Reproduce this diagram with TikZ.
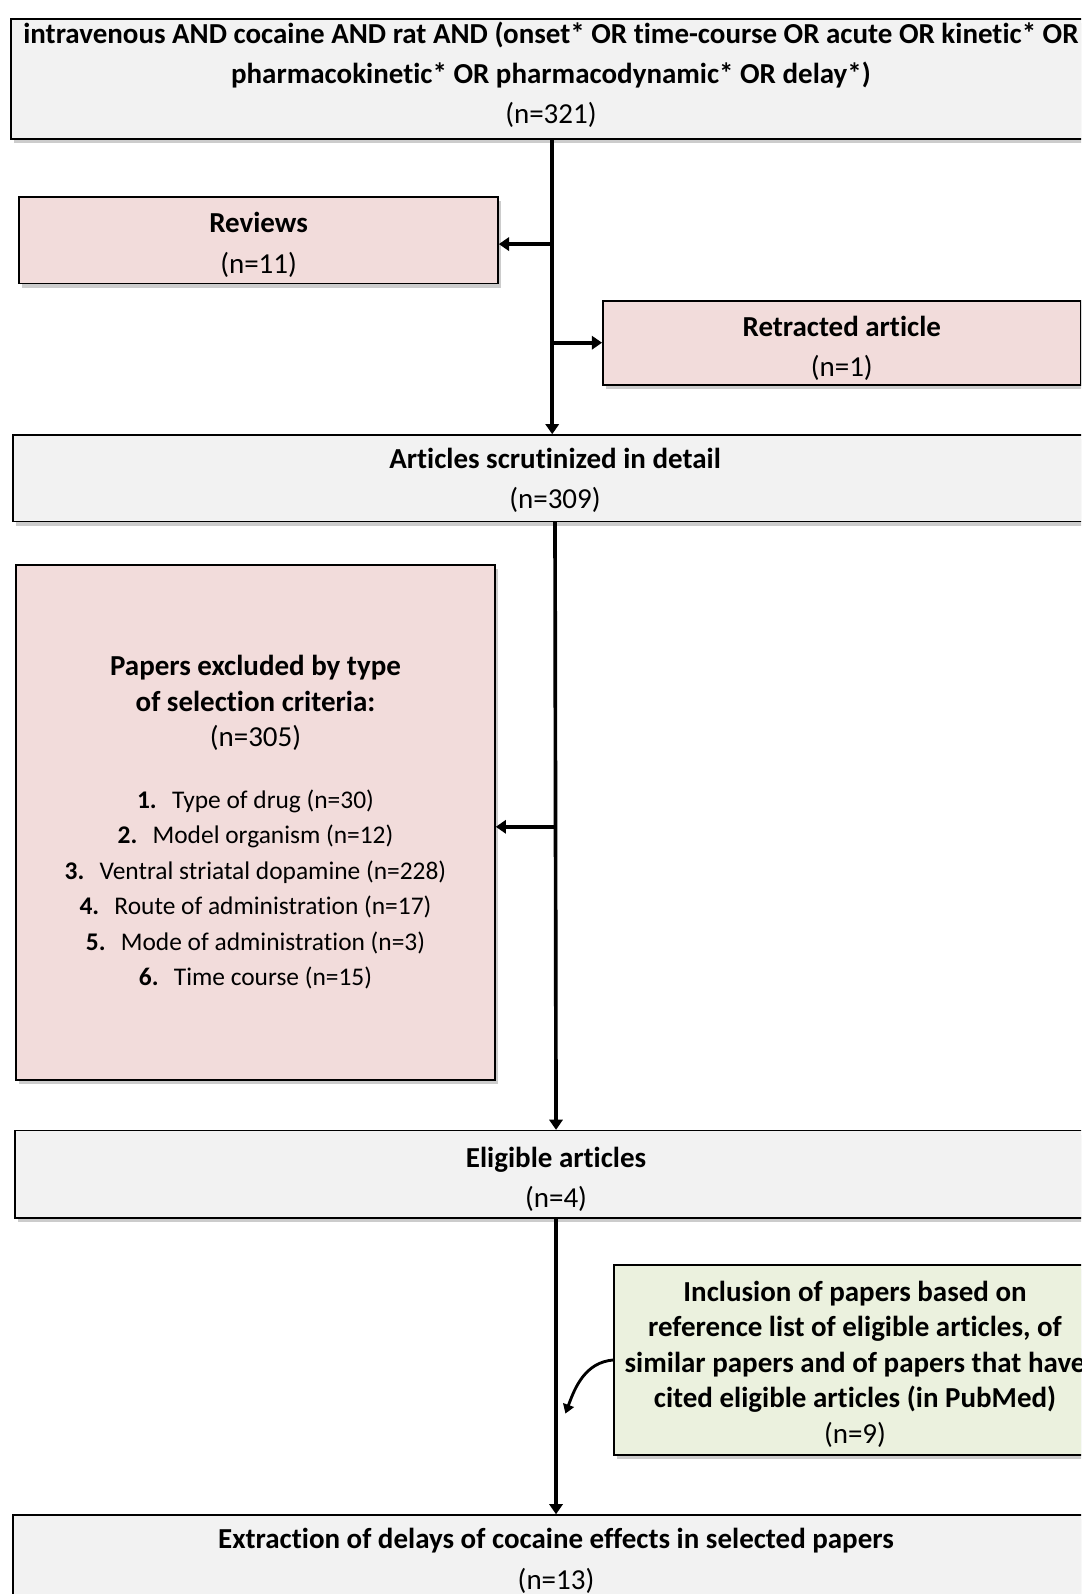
\documentclass[tikz,border=0pt]{standalone}
\usepackage{fontspec}
\setmainfont{Carlito}[Ligatures=NoCommon]
\usetikzlibrary{arrows.meta,shadows}
\definecolor{boxgray}{HTML}{F2F2F2}
\definecolor{boxpink}{HTML}{F2DCDB}
\definecolor{boxgreen}{HTML}{EBF1DE}
\newcommand{\mystrut}[1]{\rule{0pt}{#1}}
\newcommand{\mydepth}[1]{\rule[-#1]{0pt}{#1}}
\newcommand{\critem}[2]{\fontsize{25}{35}\selectfont\textbf{#1}\hspace{15pt}#2}
\begin{document}
\begin{tikzpicture}[x=1pt,y=-1pt,
  box/.style={draw=black, line width=1.5pt, anchor=north west, inner sep=0pt,
    align=center, font=\fontsize{28.5}{39.5}\selectfont,
    drop shadow={shadow xshift=3pt, shadow yshift=-4pt, fill=black, opacity=0.2}},
  graybox/.style={box, fill=boxgray},
  pinkbox/.style={box, fill=boxpink},
  greenbox/.style={box, fill=boxgreen},
  flow/.style={line width=3.6pt, -{Triangle[length=10pt,width=13pt]}}]
\useasboundingbox (0,0) rectangle (1063,1567.4);
\clip (0,0) rectangle (1063,1567.4);

\node[graybox, minimum width=1062, minimum height=118] (top) at (10,18)
  {\textbf{intravenous AND cocaine AND rat AND (onset* OR time-course OR acute OR kinetic* OR}\\
   \textbf{pharmacokinetic* OR pharmacodynamic* OR delay*)}\\
   (n=321)\mydepth{13pt}};

\node[pinkbox, minimum width=471, minimum height=85] (rev) at (18,193)
  {\mystrut{29pt}\textbf{Reviews}\\(n=11)};

\node[pinkbox, minimum width=470, minimum height=83] (retr) at (592,295)
  {\mystrut{30pt}\textbf{Retracted article}\\(n=1)};

\node[graybox, minimum width=1066, minimum height=85] (scrut) at (12,427)
  {\mystrut{24pt}\textbf{Articles scrutinized in detail}\\(n=309)};

\node[pinkbox, minimum width=471, minimum height=506, font=\fontsize{28.5}{35}\selectfont] (excl) at (15,555)
  {\textbf{Papers excluded by type}\\
   \textbf{of selection criteria:}\\
   (n=305)\\[25pt]
   \critem{1.}{Type of drug (n=30)}\\
   \critem{2.}{Model organism (n=12)}\\
   \critem{3.}{Ventral striatal dopamine (n=228)}\\
   \critem{4.}{Route of administration (n=17)}\\
   \critem{5.}{Mode of administration (n=3)}\\
   \critem{6.}{Time course (n=15)}};

\node[graybox, minimum width=1064, minimum height=86] (elig) at (14,1111)
  {\mystrut{30pt}\textbf{Eligible articles}\\(n=4)};

\node[greenbox, minimum width=474, minimum height=187, font=\fontsize{28.5}{35}\selectfont] (incl) at (603,1243)
  {\mystrut{28pt}\textbf{Inclusion of papers based on}\\
   \textbf{reference list of eligible articles, of}\\
   \textbf{similar papers and of papers that have}\\
   \textbf{cited eligible articles (in PubMed)}\\
   (n=9)};

\node[graybox, minimum width=1068, minimum height=86] (extr) at (12,1489)
  {\mystrut{24pt}\textbf{Extraction of delays of cocaine effects in selected papers}\\(n=13)};

% connectors
\coordinate (ts) at (543,137);
\coordinate (jrev) at (543,240);
\coordinate (jretr) at (543,337);
\coordinate (jexcl) at (545,813);
\coordinate (inclend) at (556,1390);

\draw[flow] (ts) -- (scrut.north -| ts);
\draw[flow] (jrev) -- (rev.east |- jrev);
\draw[flow] (jretr) -- (retr.west |- jretr);

\draw[flow] (scrut.south) -- (elig.north);
\draw[flow] (jexcl) -- (excl.east |- jexcl);

\draw[flow] (elig.south) -- (extr.north);
\draw[line width=2.8pt, -{Triangle[length=9pt,width=11pt]}] (incl.west) to[out=185, in=70] (inclend);
\end{tikzpicture}
\end{document}
